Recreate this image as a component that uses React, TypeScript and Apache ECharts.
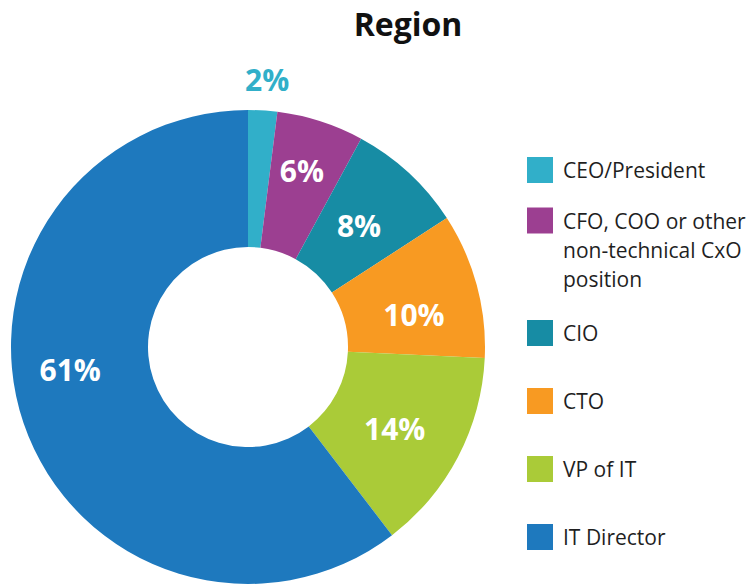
import React, { useEffect, useRef } from "react";
import * as echarts from "echarts";

const categories = [
  "CEO/President",
  "CFO, COO or other non-technical CxO position",
  "CIO",
  "CTO",
  "VP of IT",
  "IT Director",
];
const values = [2, 6, 8, 10, 14, 61];
const legendLabels = [
  "CEO/President",
  "\n\nCFO, COO or other\nnon-technical CxO\nposition",
  "CIO",
  "CTO",
  "VP of IT",
  "IT Director",
];
const colors = ["#31AFC9", "#9C3F91", "#178CA4", "#F89A22", "#AACB38", "#1E79BE"];
const labelColors = ["#31AFC9", "#FFFFFF", "#FFFFFF", "#FFFFFF", "#FFFFFF", "#FFFFFF"];
const labelOffsets = [
  [8.5, -96],
  [1.4, -13.6],
  [-5.4, 4.7],
  [0.4, 12],
  [-5.3, 1.9],
  [-15.4, -33],
];
const legendTops = [157, 148, 320, 388, 456, 524];

const FONT = "'Open Sans', 'Noto Sans', sans-serif";

export default function App() {
  const ref = useRef<HTMLDivElement>(null);
  useEffect(() => {
    if (!ref.current) return;
    const chart = echarts.init(ref.current, null, { renderer: "svg" });
    const legends = categories.map((name, i) => {
      const multi = legendLabels[i].indexOf("\n") >= 0;
      return {
        data: [name],
        left: 527,
        top: legendTops[i],
        orient: "vertical",
        padding: 0,
        icon: "rect",
        itemWidth: 26,
        itemHeight: 26,
        selectedMode: false,
        formatter: () => legendLabels[i],
        textStyle: multi
          ? {
              fontFamily: FONT,
              fontSize: 21,
              color: "#1F1F1F",
              lineHeight: 29,
              padding: [0, 0, 0, 5],
            }
          : {
              fontFamily: FONT,
              fontSize: 21,
              color: "#1F1F1F",
              padding: [0, 0, 0, 5],
            },
      };
    });
    chart.setOption({
      animation: false,
      backgroundColor: "#FFFFFF",
      graphic: [
        {
          type: "text",
          x: 408,
          y: 23,
          style: {
            text: "Region",
            align: "center",
            verticalAlign: "middle",
            font: `bold 32px ${FONT}`,
            fill: "#111111",
          },
        },
      ],
      legend: legends,
      series: [
        {
          type: "pie",
          center: [248, 347],
          radius: [100, 237],
          startAngle: 90,
          clockwise: true,
          avoidLabelOverlap: false,
          silent: true,
          label: {
            show: true,
            position: "inside",
            formatter: "{c}%",
            fontFamily: FONT,
            fontWeight: "bold",
            fontSize: 30,
          },
          labelLine: { show: false },
          data: categories.map((name, i) => ({
            name,
            value: values[i],
            itemStyle: { color: colors[i] },
            label: { color: labelColors[i], offset: labelOffsets[i] },
          })),
        },
      ],
    });
    return () => chart.dispose();
  }, []);
  return (
    <div
      ref={ref}
      style={{ position: "fixed", left: 0, top: 0, width: 751, height: 587 }}
    />
  );
}
